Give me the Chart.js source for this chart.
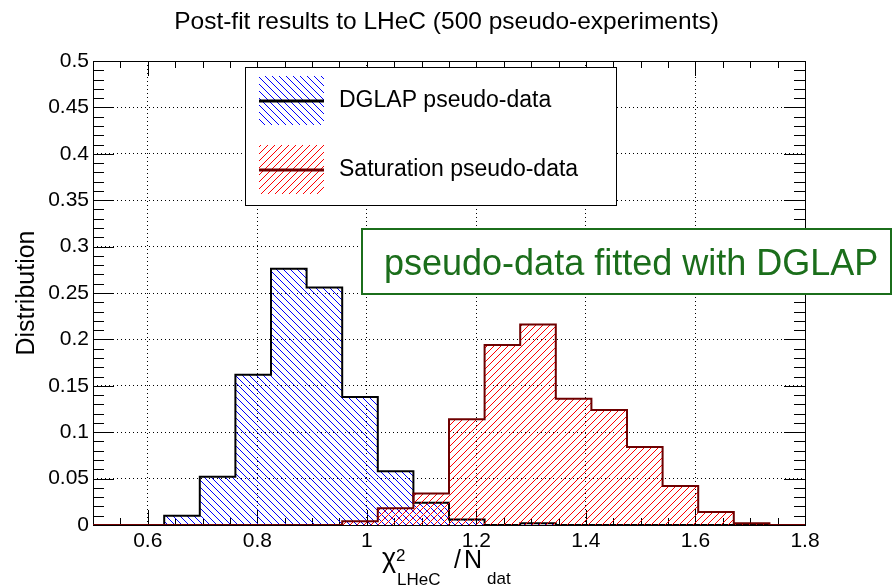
<!DOCTYPE html>
<html>
<head>
<meta charset="utf-8">
<script src="https://cdn.jsdelivr.net/npm/chart.js@4.4.1/dist/chart.umd.min.js"></script>
<style>
  html, body { margin: 0; padding: 0; background: #fff; }
  #wrap { width: 893px; height: 586px; position: relative; }
</style>
</head>
<body>
<div id="wrap"><canvas id="chart"></canvas></div>
<script>
// 20 bins between 0.5 and 1.8
const binEdges = [0.5, 0.565, 0.63, 0.695, 0.76, 0.825, 0.89, 0.955, 1.02, 1.085, 1.15,
  1.215, 1.28, 1.345, 1.41, 1.475, 1.54, 1.605, 1.67, 1.735, 1.8];
const dglapValues = [0, 0, 0.010, 0.052, 0.162, 0.276, 0.256, 0.138, 0.058, 0.024,
  0.006, 0, 0.002, 0, 0, 0, 0, 0, 0, 0];
const saturationValues = [0, 0, 0, 0, 0, 0, 0, 0.004, 0.018, 0.034,
  0.114, 0.194, 0.216, 0.136, 0.124, 0.084, 0.042, 0.014, 0.002, 0];
const xTickValues = [0.6, 0.8, 1.0, 1.2, 1.4, 1.6, 1.8];
const yTickValues = [0, 0.05, 0.1, 0.15, 0.2, 0.25, 0.3, 0.35, 0.4, 0.45, 0.5];
const seriesLabels = ['DGLAP pseudo-data', 'Saturation pseudo-data'];
const chartTitle = 'Post-fit results to LHeC (500 pseudo-experiments)';
const noteText = 'pseudo-data fitted with DGLAP';

const FONT = "'Liberation Sans', Arial, Helvetica, sans-serif";
Chart.defaults.font.family = FONT;
Chart.defaults.color = '#000';

const canvas = document.getElementById('chart');
const mainCtx = canvas.getContext('2d');

// diagonal hatch like ROOT fill styles 3004/3005
function hatch(color, dir) {
  const s = 7;
  const c = document.createElement('canvas');
  c.width = s; c.height = s;
  const g = c.getContext('2d');
  g.strokeStyle = color;
  g.lineWidth = 1;
  g.beginPath();
  for (const k of [-s, 0, s]) {
    if (dir === 'down') { g.moveTo(k - 1, -1); g.lineTo(k + s + 1, s + 1); }
    else { g.moveTo(k - 1, s + 1); g.lineTo(k + s + 1, -1); }
  }
  g.stroke();
  return mainCtx.createPattern(c, 'repeat');
}
const bluePattern = hatch('#0000ff', 'down');
const redPattern = hatch('#ff0000', 'up');

function stepPoints(values) {
  const pts = values.map((v, i) => ({ x: binEdges[i], y: v }));
  pts.push({ x: binEdges[binEdges.length - 1], y: values[values.length - 1] });
  return pts;
}

function fmt(v) { return String(Number(v.toFixed(2))); }

// frame with ROOT style inner ticks on all four sides
const frameTicks = {
  id: 'frameTicks',
  beforeDatasetsDraw(chart) {
    const { ctx, chartArea: a, scales: { x, y } } = chart;
    ctx.save();
    ctx.strokeStyle = '#000';
    ctx.lineWidth = 1;
    ctx.beginPath();
    for (let i = 0; i <= 26; i++) {
      const v = 0.5 + i * 0.05;
      const px = Math.round(x.getPixelForValue(v)) + 0.5;
      const major = Math.abs(v / 0.2 - Math.round(v / 0.2)) < 1e-6;
      const len = major ? 15 : 7;
      ctx.moveTo(px, a.bottom); ctx.lineTo(px, a.bottom - len);
      ctx.moveTo(px, a.top); ctx.lineTo(px, a.top + len);
    }
    for (let i = 0; i <= 50; i++) {
      const py = Math.round(y.getPixelForValue(i * 0.01)) + 0.5;
      const len = i % 5 === 0 ? 21 : 11;
      ctx.moveTo(a.left, py); ctx.lineTo(a.left + len, py);
      ctx.moveTo(a.right, py); ctx.lineTo(a.right - len, py);
    }
    ctx.stroke();
    ctx.strokeRect(Math.round(a.left) + 0.5, Math.round(a.top) + 0.5,
      Math.round(a.right - a.left), Math.round(a.bottom - a.top));
    ctx.restore();
  }
};

// title, legend, note box and x axis title with sub/superscripts
const overlays = {
  id: 'overlays',
  afterDraw(chart) {
    const { ctx } = chart;
    const ds = chart.data.datasets;
    ctx.save();

    // title centred on the whole canvas
    ctx.fillStyle = '#000';
    ctx.font = '24.5px ' + FONT;
    ctx.textAlign = 'center';
    ctx.textBaseline = 'alphabetic';
    ctx.fillText(chartTitle, 446.5, 29);
    ctx.textAlign = 'left';

    // legend
    ctx.fillStyle = '#fff';
    ctx.fillRect(245, 67, 371, 138);
    ctx.strokeStyle = '#000';
    ctx.lineWidth = 1;
    ctx.strokeRect(245.5, 67.5, 371, 138);
    [101, 170].forEach((cy, i) => {
      ctx.fillStyle = ds[i].backgroundColor;
      ctx.fillRect(259, cy - 25, 65, 49);
      ctx.strokeStyle = ds[i].borderColor;
      ctx.lineWidth = 3;
      ctx.beginPath();
      ctx.moveTo(259, cy); ctx.lineTo(324, cy);
      ctx.stroke();
      ctx.fillStyle = '#000';
      ctx.font = '23px ' + FONT;
      ctx.textBaseline = 'middle';
      ctx.fillText(ds[i].label, 339, cy);
    });

    // note box
    ctx.fillStyle = '#fff';
    ctx.fillRect(362, 229, 529, 65);
    ctx.strokeStyle = '#1b6e1b';
    ctx.lineWidth = 2;
    ctx.strokeRect(362, 229, 529, 65);
    ctx.fillStyle = '#1b6e1b';
    ctx.font = '36px ' + FONT;
    ctx.textBaseline = 'alphabetic';
    ctx.fillText(noteText, 384, 275);

    // x axis title
    ctx.fillStyle = '#000';
    ctx.font = '27px ' + FONT;
    ctx.fillText('\u03c7', 382, 567);
    ctx.font = '25px ' + FONT;
    ctx.fillText('/', 454, 568);
    ctx.fillText('N', 464, 568);
    ctx.font = '17px ' + FONT;
    ctx.fillText('2', 396, 561);
    ctx.fillText('LHeC', 397, 585);
    ctx.fillText('dat', 487, 584);
    ctx.restore();
  }
};

new Chart(canvas, {
  type: 'line',
  data: {
    datasets: [
      {
        label: seriesLabels[0],
        data: stepPoints(dglapValues),
        stepped: true,
        borderColor: '#000',
        borderWidth: 2,
        backgroundColor: bluePattern,
        fill: 'origin',
        pointRadius: 0,
        order: 2
      },
      {
        label: seriesLabels[1],
        data: stepPoints(saturationValues),
        stepped: true,
        borderColor: '#6e0000',
        borderWidth: 2,
        backgroundColor: redPattern,
        fill: 'origin',
        pointRadius: 0,
        order: 1
      }
    ]
  },
  options: {
    responsive: true,
    maintainAspectRatio: false,
    animation: false,
    layout: { padding: { left: 0, right: 88, top: 61, bottom: 0 } },
    plugins: {
      legend: { display: false },
      tooltip: { enabled: false },
      title: { display: false }
    },
    scales: {
      x: {
        type: 'linear',
        min: 0.5,
        max: 1.8,
        afterBuildTicks: s => { s.ticks = xTickValues.map(v => ({ value: v })); },
        afterFit: s => { s.height = 61; },
        ticks: { font: { size: 21 }, color: '#000', padding: 4, maxRotation: 0, callback: v => fmt(v) },
        grid: { color: '#000', lineWidth: 1, drawTicks: false },
        border: { display: false, dash: [1, 3] }
      },
      y: {
        type: 'linear',
        min: 0,
        max: 0.5,
        afterBuildTicks: s => { s.ticks = yTickValues.map(v => ({ value: v })); },
        afterFit: s => { s.width = 93; },
        ticks: { font: { size: 21 }, color: '#000', padding: 4, callback: v => fmt(v) },
        grid: { color: '#000', lineWidth: 1, drawTicks: false },
        border: { display: false, dash: [1, 3] },
        title: {
          display: true,
          text: 'Distribution',
          color: '#000',
          font: { size: 25 },
          padding: { top: 12, bottom: 0 }
        }
      }
    }
  },
  plugins: [frameTicks, overlays]
});
</script>
</body>
</html>
